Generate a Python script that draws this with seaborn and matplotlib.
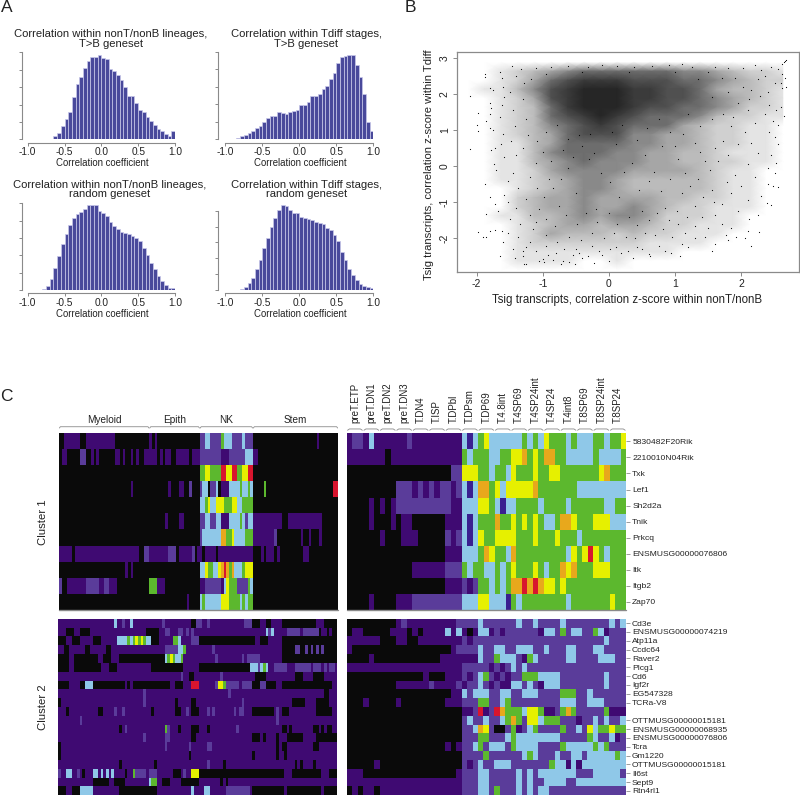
import numpy as np
import seaborn as sns
import matplotlib.pyplot as plt
from matplotlib.colors import ListedColormap, LinearSegmentedColormap

# Values.
# Histograms: bar heights per 0.05 bin, first_bin is the index of the first bar
hist_nont_tb = [10, 18, 40, 62, 83, 128, 166, 187, 214, 235, 246, 248, 253, 245, 242, 210, 204, 192, 177, 156, 130, 129,
                108, 89, 83, 67, 55, 43, 30, 26, 16, 10, 25]
hist_tdiff_tb = [3, 10, 13, 20, 26, 35, 41, 51, 65, 70, 70, 83, 78, 76, 83, 86, 89, 103, 103, 111, 130, 131, 136, 150,
                 161, 180, 200, 230, 247, 251, 252, 254, 223, 188, 137, 51, 24]
hist_nont_rand = [2, 11, 32, 65, 101, 138, 168, 195, 215, 229, 233, 244, 254, 254, 254, 238, 232, 222, 205, 193, 184,
                  175, 172, 168, 163, 156, 147, 125, 104, 81, 62, 42, 26, 14, 5, 5]
hist_tdiff_rand = [2, 9, 20, 37, 63, 89, 125, 157, 188, 215, 240, 254, 252, 240, 232, 230, 220, 215, 212, 210, 205, 202,
                   198, 185, 180, 166, 147, 115, 89, 64, 44, 30, 18, 13, 8, 5]
hist_first_bin = [7, 3, 4, 4]
hist_titles = ["Correlation within nonT/nonB lineages,\nT>B geneset", "Correlation within Tdiff stages,\nT>B geneset",
               "Correlation within nonT/nonB lineages,\nrandom geneset", "Correlation within Tdiff stages,\nrandom geneset"]

# Scatter: too many dots to read one by one, so the dense cloud is a darkness table (0-9)
# per 0.25 x 0.25 cell, and the dots that can be told apart are listed below it
density_x = [-2.125, -1.875, -1.625, -1.375, -1.125, -0.875, -0.625, -0.375, -0.125, 0.125, 0.375, 0.625, 0.875, 1.125,
             1.375, 1.625, 1.875, 2.125, 2.375, 2.625]
density_y = [2.875, 2.625, 2.375, 2.125, 1.875, 1.625, 1.375, 1.125, 0.875, 0.625, 0.375, 0.125, -0.125, -0.375, -0.625,
             -0.875, -1.125, -1.375, -1.625, -1.875, -2.125, -2.375, -2.625, -2.875]
density = ["00000000000000000000",
           "00123456666665543221",
           "00124678887776654322",
           "01135789998877643321",
           "00124789998877654321",
           "00123689998776654221",
           "00123678987666532211",
           "00123567876664322110",
           "00123467775544322110",
           "00113466665544322110",
           "00113566655443321110",
           "00113456555443322110",
           "00112455554444321100",
           "00112345543333321100",
           "00012345543333321100",
           "00023445444433221100",
           "00023445445432211100",
           "00113345455422211000",
           "00012344344322111000",
           "00012433323221110000",
           "00012222222111100000",
           "00011111111110000000",
           "00011110010000000000",
           "00000000000000000000"]
scatter_points = [(-2.1, 1.93), (-2.1, 0.48), (-1.98, 1.47), (-2.0, 1.13), (-1.98, 0.98), (-1.88, 2.55), (-1.88, 2.47),
                  (-1.98, -1.82), (-1.9, -1.95), (-1.85, -1.95), (-1.8, -1.8), (-1.65, -2.5), (-1.87, -0.5), (-1.85, -1.33),
                  (-1.79, 2.15), (-1.75, 2.1), (-1.8, 1.75), (-1.78, 1.6), (-1.8, 1.45), (-1.85, 1.25), (-1.8, 1.05),
                  (-1.75, 1.0), (-1.78, 0.45), (-1.72, 0.5), (-1.73, 0.05), (-1.7, -0.1), (-1.8, -0.85), (-1.72, -1.05),
                  (-1.68, -1.25), (-1.72, -1.78), (-1.62, -1.8), (-1.6, -2.1), (-1.65, 2.6), (-1.62, 2.45), (-1.6, 2.2),
                  (-1.58, 1.9), (-1.62, 1.7), (-1.65, 1.35), (-1.6, 0.9), (-1.63, 0.6), (-1.58, 0.25), (-1.52, -0.4),
                  (-1.58, -0.8), (-1.53, -1.0), (-1.5, -1.45), (-1.52, -1.85), (-1.45, -2.3), (-1.42, -2.55), (-1.46, 2.78),
                  (-1.4, 2.5), (-1.5, 2.05), (-1.45, 1.55), (-1.42, 1.1), (-1.48, 0.7), (-1.4, 0.3), (-1.45, -0.2),
                  (-1.38, -0.6), (-1.4, -1.15), (-1.35, -1.6), (-1.38, -1.95), (-1.3, -2.35), (-1.28, -2.7), (-1.25, -2.72),
                  (-1.3, -2.5), (-1.25, -2.25), (-1.33, 2.7), (-1.28, 2.3), (-1.3, 1.85), (-1.25, 1.3), (-1.22, 0.85),
                  (-1.3, 0.5), (-1.2, -0.3), (-1.25, -0.9), (-1.2, -1.35), (-1.15, -1.75), (-1.2, -2.1), (-1.1, -2.35),
                  (-1.05, -2.62), (-1.0, -2.58), (-0.98, -2.65), (-0.95, -2.2), (-0.92, -2.45), (-0.85, -2.6), (-0.8, -2.4),
                  (-0.72, -2.7), (-0.7, -2.62), (-0.68, -2.3), (-0.6, -2.65), (-0.55, -2.45), (-0.52, -2.72), (-0.5, -2.3),
                  (-0.45, -2.4), (-0.4, -2.55), (-0.32, -2.5), (-0.25, -2.2), (-0.22, -2.68), (-0.15, -2.35), (-0.1, -2.45),
                  (0.0, -2.62), (0.02, -2.3), (0.1, -2.25), (0.18, -2.4), (0.28, -2.35), (0.36, -2.55), (0.42, -2.25),
                  (0.5, -2.3), (0.6, -2.42), (0.62, -2.5), (0.75, -2.2), (0.85, -2.35), (0.93, -2.4), (1.07, -2.5),
                  (1.1, -2.15), (1.2, -2.25), (1.3, -2.0), (1.45, -1.95), (1.56, -2.35), (1.6, -2.15), (1.7, -1.6),
                  (1.77, -1.9), (1.8, -2.05), (1.85, -1.7), (1.92, -1.95), (2.05, -1.98), (2.1, -1.8), (2.12, -1.45),
                  (2.15, -2.22), (2.27, -1.82), (2.25, -1.35), (2.3, -0.82), (2.38, -1.02), (2.45, -1.07), (2.4, -0.5),
                  (2.48, -0.55), (2.55, -0.58), (2.5, -0.2), (2.4, -0.05), (2.52, 0.1), (2.45, 0.32), (2.55, 0.6),
                  (2.5, 0.8), (2.42, 0.95), (2.55, 1.15), (2.47, 1.25), (2.65, 1.4), (2.6, 1.65), (2.52, 1.55), (2.42, 1.7),
                  (2.62, 2.15), (2.68, 2.2), (2.6, 2.3), (2.66, 2.45), (2.55, 2.7), (2.62, 2.55), (2.5, 2.3), (2.4, 2.05),
                  (2.35, 2.5), (2.45, 2.75), (2.3, 2.65), (2.2, 2.8), (2.25, 2.4), (2.15, 2.1), (2.66, 2.9), (2.68, 2.93),
                  (2.64, 2.87), (2.62, 2.83), (2.1, 1.55), (2.2, 1.2), (2.05, 0.95), (2.15, 0.65), (2.25, 0.35),
                  (2.1, 0.05), (2.2, -0.3), (2.0, -0.55), (2.1, -0.95), (1.95, -1.25), (1.85, -0.75), (1.9, -0.25),
                  (1.8, 0.3), (1.95, 0.6), (1.85, 1.1), (1.7, -1.05), (1.6, -1.35), (1.55, -0.65), (1.5, -1.7), (1.4, -1.4),
                  (1.3, -1.65), (1.15, -1.85), (1.05, -1.6), (0.95, -1.95), (0.82, -1.75), (0.7, -1.9), (0.55, -1.85),
                  (0.4, -2.0), (0.25, -1.95), (0.08, -1.85), (-0.08, -2.0), (-0.25, -1.85), (-0.42, -2.05), (-0.6, -1.95),
                  (-0.78, -2.1), (-0.95, -1.9), (-1.1, -1.55), (-1.08, -0.6), (-1.1, 0.1), (-1.08, 0.7), (-0.3, 0.2),
                  (0.1, 0.6), (0.35, 0.1), (0.6, -0.4), (0.8, 0.55), (1.05, 0.2), (1.3, 0.65), (1.45, 0.15), (1.6, 0.5),
                  (1.35, -0.35), (1.1, -0.75), (0.85, -1.15), (0.5, -1.25), (0.15, -0.85), (-0.2, -1.2), (-0.5, -0.75),
                  (-0.75, -1.1), (-0.9, -0.35), (-0.7, 0.45), (-0.45, 0.85), (0.2, 1.15), (0.75, 1.3), (1.2, 1.45),
                  (1.55, 1.9), (1.8, 2.05), (1.95, 1.75), (1.7, 2.45), (1.5, 2.6), (1.25, 2.75), (1.1, 2.82), (0.9, 2.8),
                  (0.65, 2.78), (0.38, 2.75), (0.12, 2.78), (-0.1, 2.8), (-0.32, 2.75), (-0.62, 2.78), (-0.88, 2.75),
                  (-1.1, 2.72), (-1.18, 2.4), (-0.95, 2.55), (-0.4, 2.6), (0.3, 2.6), (1.0, 2.6), (1.35, 2.4), (1.9, 2.45),
                  (-1.05, -1.2), (-0.98, -0.85), (-0.85, -0.6), (-0.72, -0.35), (-0.62, -0.05), (-0.55, 0.25), (-0.4, 0.55),
                  (-0.22, 0.35), (-0.12, -0.2), (0.02, -0.45), (0.22, -0.15), (0.45, -0.65), (0.55, 0.3), (0.68, -0.15),
                  (0.78, -0.7), (0.92, -0.35), (1.0, 0.55), (1.15, -0.2), (1.22, -0.55), (1.38, 0.4), (1.52, -0.1),
                  (1.65, 0.15), (1.72, 0.7), (1.78, -0.45), (-0.95, -1.45), (-0.82, -1.65), (-0.65, -1.35), (-0.48, -1.6),
                  (-0.35, -1.3), (-0.18, -1.55), (0.0, -1.3), (0.12, -1.6), (0.3, -1.4), (0.42, -1.62), (0.6, -1.5),
                  (0.72, -1.3), (0.9, -1.5), (1.02, -1.25), (1.18, -1.42), (1.3, -1.1), (1.42, -0.85), (1.58, -1.0),
                  (-1.0, 0.4), (-0.88, 0.15), (-0.95, 0.95), (-0.78, 1.15), (-0.62, 0.75), (-0.28, 0.9), (0.05, 0.95),
                  (0.42, 0.72), (0.58, 1.05), (0.92, 0.95), (1.12, 0.88), (1.38, 1.1), (1.55, 1.3), (1.72, 1.45), (1.88, 1.35),
                  (2.02, 2.2), (2.12, 1.85), (2.28, 1.95), (2.35, 1.45), (1.6, 2.75), (1.8, 2.72), (2.02, 2.72)]

# Heatmap colours and rows, as runs of colour letter + count
colour_keys = "kpdmbgyor"
colour_values = ["#0a0a0a", "#3f0a72", "#3a1f90", "#5a3c9a", "#8fc8e8", "#5cb82e", "#e6f000", "#e8a81c", "#d8152e"]

cluster1_left = ["k2 p6 k2 p11 k13 p1 k1 p1 k16 m2 b2 m4 g1 b3 m4 b1 m3 k24 p1 k7",
                 "k1 p2 k5 m2 k2 p1 k1 p1 k6 p2 k1 p1 k2 p1 k1 p1 k2 p5 k1 p1 k1 p2 k2 p5 k1 p3 m8 p3 m6 b3 p2 k30",
                 "k53 g2 y2 g4 r2 y2 r2 g2 y2 r2 k32",
                 "k27 p1 k13 p1 k3 p2 k2 m1 k3 m1 b2 k1 m2 b1 k1 p3 b4 g1 b2 g1 b1 k4 g1 k25 r2",
                 "k53 b2 g1 y1 b2 y3 g3 y2 b2 g4 k32",
                 "k40 p1 k4 p2 k6 m2 b2 m2 b2 p3 b4 g1 b1 m1 b2 p11 k2 p13 k6",
                 "k53 m1 b7 o2 g2 y1 b4 g3 p8 m1 k9 p1 k2 p1 k3 p1 k6",
                 "p5 k1 p24 k2 m2 p7 m3 k1 p5 m1 k1 p1 p1 k1 p4 k1 p13 k3 p1 k1 p3 k1 p1 k9 p2 k11",
                 "k25 p1 k1 p1 k25 b2 y1 g2 b2 y1 o1 r1 o1 g1 o1 b2 b1 g1 y3 k32",
                 "m1 k2 p7 m5 p2 m2 p3 k12 g3 p3 k13 p2 m6 p1 b1 y1 g3 m4 g1 b1 k32",
                 "k48 p1 k4 b1 g1 b6 y3 g4 b1 g1 b1 g2 k32"]
cluster1_right = ["p1 m2 p1 b1 p6 m1 p9 b1 d1 b1 g1 y1 b6 g1 b1 g1 b1 y1 g3 b1 g1 b3 g2 b1 g2 y1",
                  "p7 k1 p13 g1 b1 g3 b2 g2 y2 o1 g1 y1 g1 o2 g2 b5 g1 b4 g1",
                  "k19 m2 y3 g2 b1 g2 b1 y1 g3 y1 g2 y2 g7 y1 o1 g3",
                  "k9 m3 p1 m1 p1 m1 p1 m2 p1 m1 b1 d1 b1 o2 g1 y1 b1 y5 o1 g7 b9",
                  "k4 p1 k1 p1 k1 p1 m10 p2 b3 y2 g1 b1 d1 b2 g4 b1 g4 b1 g6 b2 g2",
                  "k4 p1 k3 p1 k1 p2 k6 p3 b1 d1 b1 g3 o1 g2 y1 g1 y1 g1 y1 g1 b2 g1 o2 y1 g3 y3 b3",
                  "k6 p1 k3 p3 k5 m1 p1 m1 b1 d1 b1 y1 g2 y4 g3 y1 g3 y1 g3 b1 g8",
                  "k18 p3 b3 g1 o1 y1 g2 b1 o1 g9 b1 y1 g1 y1 r1 y1 g1 b1 g3",
                  "k12 p6 m3 g1 b1 g2 b2 g1 b1 g1 y1 g3 y1 g1 b1 g2 o1 y1 o1 g3 y3 g3",
                  "k18 p3 m1 p1 m1 g2 b1 g1 b1 g1 o2 r1 o1 r1 o1 y2 g1 y1 g11",
                  "k4 p1 k4 p3 m9 b3 y2 b3 d1 g1 b1 g8 b1 g7 y1 g2"]
cluster2_left = ["p21 b1 p2 m1 p2 b1 p11 m1 p10 k2 m2 p2 m1 p13 m3 k3 p2 k2 p4 k13 p3 k5",
                 "p3 k3 p2 k4 p21 k5 p2 m2 p3 m2 p1 m1 p1 m1 p27 b1 m1 b1 p5 m5 p1 m6 k1 p2 k1 p1 k2",
                 "k3 p2 k3 p5 k3 p6 b3 b1 g1 b1 g1 y1 g1 y1 g1 b2 k3 p5 g2 b1 p4 m3 k21 p2 k3 p5 k21",
                 "p2 k2 p6 k2 p6 k2 p20 m5 b2 g1 p10 m1 p25 k5 m2 k2 m1 k1 m1 k1 m1 k1 m1 k1 k4",
                 "k4 p2 k9 p2 k3 p3 k17 b1 g1 y1 g1 b2 g1 p12 m1 p9 m1 p1 m5 p8 k21",
                 "k4 p2 k10 p3 k3 p13 k12 p6 k19 b3 m1 b1 g1 b1 p2 m5 p3 m6 p1 m3 p1 m1 p1 m2 p1",
                 "p46 m1 p2 k2 p10 m1 p12 k4 p11 k3 p4 k4 p5",
                 "k4 p4 k2 b3 k12 p1 k1 p1 k14 p2 k3 p3 r3 p6 m1 y2 g1 m5 p1 m4 k3 m2 k4 p2 k19 p2",
                 "p32 m1 p31 m1 p35 k2 p3",
                 "k1 p31 m1 p11 k1 p5 k2 p17 m1 p18 k5 p4 k5 p3",
                 "p3 k1 p11 k2 p4 m1 p2 m1 p10 k1 p8 k2 p2 m1 p1 k3 p3 m1 p1 m1 p7 m1 p1 m2 p3 k8 p1 m1 p1 k3 p10 k6 p2",
                 "p8 m1 p73 m1 p22",
                 "p23 k1 p1 m1 p14 g1 m1 p3 k1 p4 k3 p3 k1 p10 m1 p16 k2 p1 k1 p8 k2 p1 k1 p1 k2 p2",
                 "p32 m1 p7 m2 p8 k2 p21 k3 p1 k1 p4 k1 p3 k6 p5 k8",
                 "k1 p39 m1 p8 m1 p6 m2 p24 k1 p1 k2 p10 k2 p7",
                 "k1 p48 k1 p23 k1 p8 k1 p2 k1 p19",
                 "p23 k1 p12 k1 p19 m1 p5 k1 p26 k1 p1 k1 p4 k1 p8",
                 "m1 p2 b2 p2 m1 p1 k1 p3 b2 p1 b1 p1 b1 p1 b1 p4 k1 p2 g1 m4 p1 m3 p6 k3 p1 m1 p2 y3 k32 p3 k11 p3 k3",
                 "p13 k6 p2 k4 p9 b1 g2 p2 k3 p4 k7 p8 k1 p1 k1 p41",
                 "k3 p2 k3 b5 p10 k14 p13 b1 p4 b2 p6 m9 p1 k12 p1 k13 p1 k5"]
cluster2_right = ["k9 p1 m1 p9 m4 b1 m6 b1 m2 b1 m4 b1 m8 b1 m1 b1",
                  "k1 p2 k5 p3 k1 p1 k1 p4 b1 p1 b1 p1 k1 p1 b2 p1 m1 p1 m6 p1 b2 m1 g1 m1 b2 m2 g1 b1 p1 m3",
                  "p6 k3 p2 k2 p8 m1 p1 m24 b1 m3",
                  "p1 k18 p1 m4 b1 m2 b2 m2 b3 m2 b1 m3 b2 m3 b2 m4",
                  "k4 p1 k12 p7 b1 m2 g1 b3 m1 p1 g1 b1 m5 b1 b1 m4 b3 m2",
                  "p21 m5 p1 m1 p1 m1 b1 m1 b1 m18",
                  "k14 p1 k3 p3 m1 p1 m1 b1 g1 m1 p1 m1 p1 m2 g3 b4 m8 b1 m3",
                  "k9 p6 m1 p4 m1 p1 m2 b1 m1 p1 m1 p2 b2 m1 b1 m1 p1 b3 m8 b1 m3",
                  "k19 p2 b1 m1 b3 m2 b2 m2 b3 m4 g3 m2 b1 m6",
                  "k3 p1 k5 p1 k8 p3 m3 g2 m2 b1 g1 m9 b3 m2 b3 m4",
                  "k21 p2 m1 r1 p1 m1 r1 o1 g3 b1 y2 g1 p2 m1 g1 o1 g1 m5 g1 p3",
                  "k21 m1 b1 m2 b1 m2 b1 g1 o1 g1 m1 y2 b1 g3 m3 p1 m2 b1 m1 b1 m2 b1",
                  "k21 m2 b1 o1 y1 m1 k2 m1 g1 p1 m1 b1 g1 m4 g1 m2 b1 m1 y1 b1 g2 y1 g2",
                  "k21 m3 g2 m3 b1 g1 b8 m5 g1 b1 m2 b1 p1 m1",
                  "k18 p1 k1 p1 m2 b1 g1 m1 b3 m1 g1 b4 m4 g1 b5 g1 b1 g1 m3",
                  "k21 m4 g1 m6 b1 g1 b1 m3 b1 m2 b2 m1 b5 g1 b1",
                  "k5 p1 k15 m1 p1 m1 b1 m2 b3 m7 g1 b2 p1 b1 p1 b8",
                  "p3 k17 p1 m3 b2 m5 b1 m1 b1 m1 b7 m3 b5 m1",
                  "p21 m3 b2 m5 b1 m1 b1 m2 b4 m2 b9",
                  "k1 p1 k1 p2 k1 p15 m3 b2 m1 g1 m3 b1 m1 b1 m1 b2 m14"]

myeloid_groups = ["Myeloid", "Epith", "NK", "Stem"]
myeloid_group_sizes = [34, 19, 20, 32]
stage_labels = ["preT.ETP", "preT.DN1", "preT.DN2", "preT.DN3", "T.DN4", "T.ISP", "T.DPbl", "T.DPsm", "T.DP69", "T.4.8int",
                "T.4SP69", "T.4SP24int", "T.4SP24", "T.4int8", "T.8SP69", "T.8SP24int", "T.8SP24"]
cluster1_genes = ["5830482F20Rik", "2210010N04Rik", "Txk", "Lef1", "Sh2d2a", "Tnik", "Prkcq", "ENSMUSG00000076806", "Itk",
                  "Itgb2", "Zap70"]
cluster2_genes = ["Cd3e", "ENSMUSG00000074219", "Atp11a", "Ccdc64", "Raver2", "Plcg1", "Cd6", "Igf2r", "EG547328", "TCRa-V8",
                  "", "OTTMUSG00000015181", "ENSMUSG00000068935", "ENSMUSG00000076806", "Tcra", "Gm1220",
                  "OTTMUSG00000015181", "Il6st", "Sept9", "Rtn4rl1"]

W, H = 800, 796
GREY = "#8a8a8a"
TEXT = "#222222"


def add_axes_px(left, top, right, bottom):
    return fig.add_axes([left / W, 1 - bottom / H, (right - left) / W, (bottom - top) / H])


def text_px(x, y, s, size, **kw):
    fig.text(x / W, 1 - y / H, s, fontsize=size, color=TEXT, ha=kw.pop("ha", "center"), va=kw.pop("va", "center"), **kw)


def expand_rows(rows):
    return np.array([[colour_keys.index(tok[0]) for tok in row.split() for _ in range(int(tok[1:]))] for row in rows])


def draw_hist(box, heights, first_bin, tick_top, spine_left, title, title_x, title_y, label_y):
    ax = add_axes_px(*box)
    edges = np.linspace(-1, 1, 41)
    centers = (edges[:-1] + edges[1:]) / 2
    sns.histplot(x=centers[first_bin:first_bin + len(heights)], weights=heights, bins=list(edges), ax=ax, color="#3f3f96",
                 alpha=0.95, edgecolor="#c9c9ea", linewidth=0.5)
    ax.set_xlim(-1, 1)
    ax.set_ylim(0, (box[3] - box[1]) * 3)
    ax.set_xticks([-1, -0.5, 0, 0.5, 1])
    ax.set_xticklabels(["-1.0", "-0.5", "0.0", "0.5", "1.0"])
    ax.set_yticks(np.linspace(0, tick_top, 6))
    ax.set_yticklabels([])
    ax.set_xlabel("")
    ax.set_ylabel("")
    ax.tick_params(axis="both", length=2, width=0.7, color=GREY, labelcolor=TEXT, labelsize=7.3, pad=1.5, left=True, bottom=True)
    ax.patch.set_alpha(0)
    for side in ["top", "right"]:
        ax.spines[side].set_visible(False)
    ax.spines["left"].set_position(("outward", (box[0] - spine_left) * 0.72))
    ax.spines["left"].set_bounds(0, tick_top)
    ax.spines["bottom"].set_position(("outward", 2.4))
    for side in ["left", "bottom"]:
        ax.spines[side].set_color(GREY)
        ax.spines[side].set_linewidth(0.8)
    text_px(title_x, title_y, title, 8.1, linespacing=0.92)
    text_px((box[0] + box[2]) / 2 + 1, label_y, "Correlation coefficient", 6.9)


def draw_block(box, rows, labels=None):
    ax = add_axes_px(*box)
    cmap = ListedColormap(colour_values)
    sns.heatmap(expand_rows(rows), cmap=cmap, vmin=-0.5, vmax=len(colour_values) - 0.5, cbar=False, ax=ax,
                xticklabels=False, yticklabels=False, rasterized=True)
    ax.set_xlabel("")
    ax.set_ylabel("")
    if labels:
        ticks = [i + 0.5 for i, name in enumerate(labels) if name]
        ax.yaxis.tick_right()
        ax.set_yticks(ticks)
        ax.set_yticklabels([n for n in labels if n], rotation=0)
        ax.tick_params(axis="y", length=3, width=0.6, color=GREY, labelcolor=TEXT, labelsize=6.1, pad=1.5, right=True)
    return ax


def bracket(ax, start, end, y, hook):
    ax.plot([start + 0.15, start + 0.5, end - 0.5, end - 0.15], [y + hook, y, y, y + hook], color=GREY, lw=0.6,
            clip_on=False)


sns.set_theme(style="white")
plt.rcParams["font.family"] = ["Liberation Sans", "DejaVu Sans"]
plt.rcParams["axes.unicode_minus"] = False

fig = plt.figure(figsize=(W / 100, H / 100), dpi=100)

text_px(6.5, 7, "A", 12.5)
text_px(410, 7, "B", 12.5)
text_px(6, 396, "C", 12.5)

# Panel A, histograms
for box, heights, first_bin, tick_top, spine_left, title, title_x, title_y, label_y in [
    ((27.7, 52.3, 175, 139.3), hist_nont_tb, hist_first_bin[0], 261, 21.7, hist_titles[0], 111, 39, 163),
    ((225.3, 51.7, 373.3, 139.3), hist_tdiff_tb, hist_first_bin[1], 263, 218.3, hist_titles[1], 306.5, 39, 163),
    ((27.7, 203.3, 175, 290), hist_nont_rand, hist_first_bin[2], 260, 21.7, hist_titles[2], 109.7, 189.5, 314),
    ((225.3, 205.3, 373.3, 290), hist_tdiff_rand, hist_first_bin[3], 238, 218.3, hist_titles[3], 306.5, 189.5, 314),
]:
    draw_hist(box, heights, first_bin, tick_top, spine_left, title, title_x, title_y, label_y)

# Panel B, scatter
ax_b = add_axes_px(456.7, 52.3, 799, 272)
density_cells = np.array([[int(c) for c in row] for row in density], dtype=float)
grey_map = LinearSegmentedColormap.from_list("cloud", [(0, "#ffffff"), (1 / 9, "#e4e4e4"), (4 / 9, "#a6a6a6"),
                                                       (7 / 9, "#505050"), (1, "#262626")])
ax_b.pcolormesh(density_x, density_y, density_cells, cmap=grey_map, vmin=0, vmax=9, shading="gouraud", rasterized=True)
sns.scatterplot(x=[p[0] for p in scatter_points], y=[p[1] for p in scatter_points], s=0.7, color="black", linewidth=0, ax=ax_b)
ax_b.set_xlim(-2.30, 2.87)
ax_b.set_ylim(-2.93, 3.15)
ax_b.set_xticks([-2, -1, 0, 1, 2])
ax_b.set_yticks([-2, -1, 0, 1, 2, 3])
ax_b.tick_params(axis="both", length=3, width=0.7, color=GREY, labelcolor=TEXT, labelsize=7.5, pad=2, left=True, bottom=True)
plt.setp(ax_b.get_yticklabels(), rotation=90, va="center")
for side in ax_b.spines.values():
    side.set_color(GREY)
    side.set_linewidth(0.9)
text_px(627, 300, "Tsig transcripts, correlation z-score within nonT/nonB", 8.3)
text_px(429, 165, "Tsig transcripts, correlation z-score within Tdiff", 8.1, rotation=90)

# Panel C, heatmaps
ax_c1l = draw_block((59, 432.7, 338, 610), cluster1_left)
ax_c1r = draw_block((346.7, 433.3, 626, 610), cluster1_right, cluster1_genes)
ax_c2l = draw_block((58.3, 618.7, 337.3, 795.3), cluster2_left)
ax_c2r = draw_block((346.7, 618.7, 625.7, 795.3), cluster2_right, cluster2_genes)
for ax in [ax_c1l, ax_c1r]:
    ax.axhline(11, color=GREY, lw=1, clip_on=False)

group_start = 0
for name, size in zip(myeloid_groups, myeloid_group_sizes):
    bracket(ax_c1l, group_start, group_start + size, -0.37, 0.08)
    ax_c1l.text(group_start + size / 2, -0.76, name, ha="center", va="center", fontsize=7.2, color=TEXT)
    group_start += size
for i, name in enumerate(stage_labels):
    bracket(ax_c1r, i * 3, i * 3 + 3, -0.27, 0.08)
    ax_c1r.text(i * 3 + 1.5, -0.62, name, rotation=90, ha="center", va="bottom", fontsize=7, color=TEXT)

text_px(43, 521.7, "Cluster 1", 8.2, rotation=90)
text_px(43, 706.7, "Cluster 2", 8.2, rotation=90)

fig.savefig("out.png", dpi=100)
